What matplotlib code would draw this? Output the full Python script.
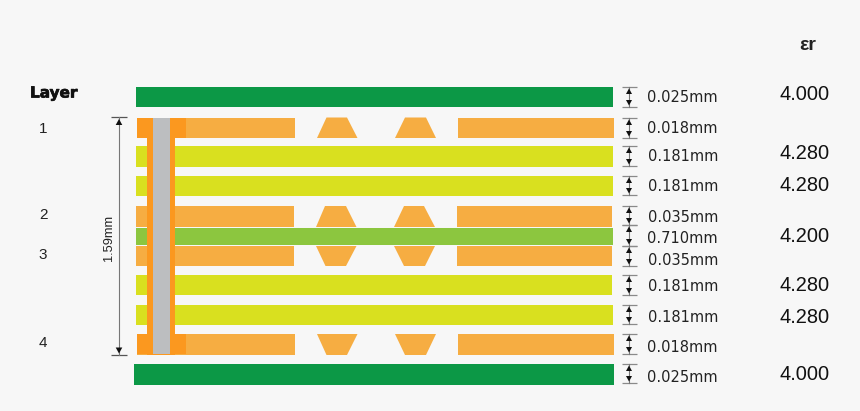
import matplotlib
matplotlib.use("Agg")
import matplotlib.pyplot as plt
import matplotlib.patheffects as pe
from matplotlib.patches import Rectangle, Polygon

BG = "#f7f7f7"
GREEN = "#0c9846"
COPPER = "#f6ad42"
YELLOW = "#d9e01f"
LIME = "#8cc63f"
VIA = "#fb981f"
GRAY = "#bcbec0"

thickness_labels = ["0.025mm", "0.018mm", "0.181mm", "0.181mm", "0.035mm", "0.710mm",
                    "0.035mm", "0.181mm", "0.181mm", "0.018mm", "0.025mm"]
er_labels = ["4.000", "4.280", "4.280", "4.200", "4.280", "4.280", "4.000"]
layer_labels = ["1", "2", "3", "4"]
total_label = "1.59mm"

# layout of the cross-section, in image pixels
solid_layers = [(136, 613, 87, 107, GREEN), (136, 613, 146, 167, YELLOW), (136, 613, 176, 196, YELLOW),
                (136, 613, 305, 325, YELLOW), (136, 612, 275, 295, YELLOW), (134, 614, 364, 385, GREEN)]
copper_bars = [(137, 295, 117.5, 138), (458, 614, 117.5, 138), (136, 294, 206, 227), (457, 612, 206, 227),
               (136, 294, 246, 266), (457, 612, 246, 266), (137, 295, 334, 355), (458, 614, 334, 355)]
traps = [(317, 357.5, 326.5, 347, 138, 117.5), (395, 436, 405, 426, 138, 117.5),
         (316, 356.5, 325, 346, 227, 206), (394, 435, 404, 424, 227, 206),
         (316, 356.5, 325.5, 346, 246, 266), (394, 435, 404, 425, 246, 266),
         (317, 357.5, 326.5, 347, 334, 355), (395, 436, 405, 426, 334, 355)]
dims = [(87, 107), (118, 138), (146, 166), (176, 195), (206, 225), (225, 246),
        (246, 266), (275, 295), (305, 324), (334, 354), (364, 383)]
thick_y = [97.5, 128, 156, 186, 217.5, 238, 260, 286, 317, 347, 377.5]
er_y = [94, 153, 185, 236, 285, 317, 374]
layer_y = [128.5, 214.5, 254.5, 342.5]

fig = plt.figure(figsize=(8.6, 4.11), dpi=100, facecolor=BG)
ax = fig.add_axes([0, 0, 1, 1])
ax.set_xlim(0, 860)
ax.set_ylim(411, 0)
ax.axis("off")


def rect(x0, x1, y0, y1, color, z=2):
    ax.add_patch(Rectangle((x0, y0), x1 - x0, y1 - y0, facecolor=color, edgecolor="none", zorder=z))


for x0, x1, y0, y1, c in solid_layers:
    rect(x0, x1, y0, y1, c)
for x0, x1, y0, y1 in copper_bars:
    rect(x0, x1, y0, y1, COPPER)
for a, b, c, d, ybase, ytip in traps:
    ax.add_patch(Polygon([(a, ybase), (b, ybase), (d, ytip), (c, ytip)], closed=True,
                         facecolor=COPPER, edgecolor="none", zorder=2))
rect(136, 613, 228, 245, LIME, z=3)

# plated through hole
rect(147, 175, 117.5, 355, VIA, z=4)
rect(137, 186, 117.5, 138, VIA, z=4)
rect(137, 186, 334, 354, VIA, z=4)
rect(153, 170, 117.5, 354, GRAY, z=5)


def dim(x, top, bottom, half, head, lc):
    ax.plot([x - half, x + half], [top, top], color=lc, lw=0.9, zorder=6, solid_capstyle="butt")
    ax.plot([x - half, x + half], [bottom, bottom], color=lc, lw=0.9, zorder=6, solid_capstyle="butt")
    ax.plot([x, x], [top, bottom], color="#777777", lw=0.8, zorder=6)
    ax.add_patch(Polygon([(x, top + 1.5), (x - head * 0.55, top + 1.5 + head), (x + head * 0.55, top + 1.5 + head)],
                         closed=True, facecolor="#111111", edgecolor="none", zorder=7))
    ax.add_patch(Polygon([(x, bottom - 1.5), (x - head * 0.55, bottom - 1.5 - head), (x + head * 0.55, bottom - 1.5 - head)],
                         closed=True, facecolor="#111111", edgecolor="none", zorder=7))


for top, bottom in dims:
    dim(629, top, bottom, 7.5, 5.5, "#8a8a8a")
dim(119, 117.5, 355, 8, 6, "#555555")

ax.text(109, 238, total_label, rotation=90, ha="center", va="center", fontsize=9.2,
        family="Liberation Sans", color="#222222")

for t, y in zip(thickness_labels, thick_y):
    ax.text(718, y, t, ha="right", va="center", fontsize=10.5, family="DejaVu Sans", color="#222222")
for t, y in zip(er_labels, er_y):
    ax.text(805, y, t, ha="center", va="center", fontsize=14.4, family="Liberation Sans", color="#111111")
ax.text(807.5, 45, "εr", ha="center", va="center", fontsize=14, family="Liberation Sans",
        fontweight="bold", color="#222222")
ax.text(30, 93, "Layer", ha="left", va="center", fontsize=11, family="DejaVu Sans", fontweight="bold",
        color="#111111", path_effects=[pe.withStroke(linewidth=0.5, foreground="#111111")])
for t, y in zip(layer_labels, layer_y):
    ax.text(43, y, t, ha="center", va="center", fontsize=11, family="Liberation Sans", color="#222222")

fig.savefig("out.png", dpi=100, facecolor=BG)
